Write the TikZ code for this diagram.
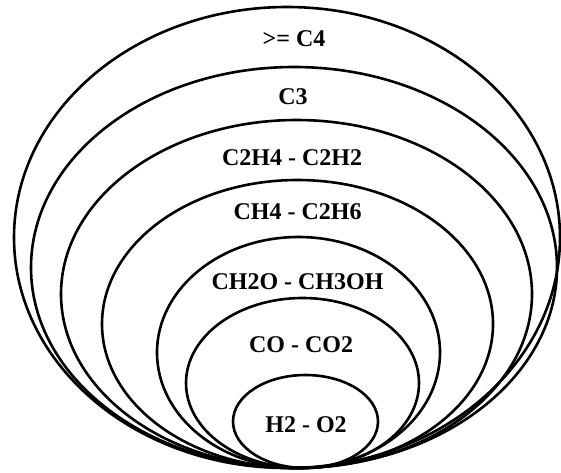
\documentclass[tikz,border=0pt]{standalone}
\usepackage{fontspec}
\setmainfont{Liberation Serif}
\begin{document}
\begin{tikzpicture}[x=1pt,y=-1pt,
  ring/.style={draw=black,line width=2.6pt},
  lbl/.style={font=\fontsize{24}{28}\selectfont\bfseries,inner sep=0pt,text=black}]
\useasboundingbox[fill=white] (0,0) rectangle (561,472);
\draw[ring] (287,237.5) ellipse [x radius=273pt, y radius=230.5pt];
\draw[ring] (294,267.5) ellipse [x radius=263pt, y radius=200.5pt];
\draw[ring] (296.5,294) ellipse [x radius=235.5pt, y radius=174pt];
\draw[ring] (297.5,324) ellipse [x radius=195.5pt, y radius=144pt];
\draw[ring] (298.5,352.5) ellipse [x radius=141.5pt, y radius=115.5pt];
\draw[ring] (302.5,383) ellipse [x radius=116.5pt, y radius=85pt];
\draw[ring] (305.5,421.5) ellipse [x radius=72.5pt, y radius=46.5pt];
\node[lbl] (c4) at (294,39) {>= C4};
\node[lbl] (c3) at (293,97) {C3};
\node[lbl] (c2) at (292,158) {C2H4 - C2H2};
\node[lbl] (ch4) at (297.5,212) {CH4 - C2H6};
\node[lbl] (ch2o) at (297.5,282) {CH2O - CH3OH};
\node[lbl] (co) at (301,345) {CO - CO2};
\node[lbl] (h2) at (306,425) {H2 - O2};
\end{tikzpicture}
\end{document}
